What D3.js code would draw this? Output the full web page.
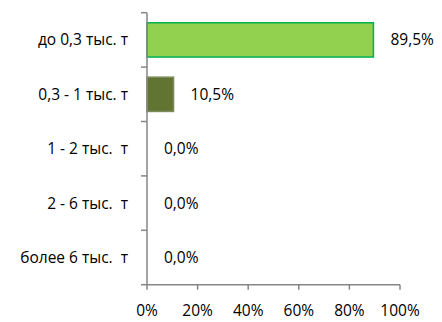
<!DOCTYPE html>
<html><head><meta charset="utf-8">
<script src="https://cdn.jsdelivr.net/npm/d3@7"></script>
<style>
html,body{margin:0;padding:0;background:#fff;}
text{font-family:"Open Sans","Segoe UI",sans-serif;fill:#000;white-space:pre;}
</style></head>
<body><svg id="chart" width="442" height="322"></svg>
<script>
const categories = ["до 0,3 тыс. т", "0,3 - 1 тыс. т", "1 - 2 тыс.  т", "2 - 6 тыс.  т", "более 6 тыс.  т"];
const values = [89.5, 10.5, 0.0, 0.0, 0.0];
const valueLabels = ["89,5%", "10,5%", "0,0%", "0,0%", "0,0%"];
const tickValues = [0, 20, 40, 60, 80, 100];
const tickLabels = ["0%", "20%", "40%", "60%", "80%", "100%"];
const fills = ["#92D050", "#627432", "#92D050", "#92D050", "#92D050"];
const strokes = ["#00B050", "#7C8C5C", "none", "none", "none"];

const svg = d3.select("#chart");
const x = d3.scaleLinear().domain([0, 100]).range([147, 400]);
const y = d3.scaleBand().domain(categories).range([12.7, 284.7]).paddingInner(0.37).paddingOuter(0.185);
const axisColor = "#868686";
const fs = 15.5;

// bars
svg.selectAll("rect.bar").data(values).join("rect")
  .attr("class", "bar")
  .attr("x", x(0))
  .attr("y", (d, i) => y(categories[i]))
  .attr("width", d => x(d) - x(0))
  .attr("height", y.bandwidth())
  .attr("fill", (d, i) => fills[i])
  .attr("stroke", (d, i) => d > 0 ? strokes[i] : "none")
  .attr("stroke-width", 1.5)
  .style("display", d => d > 0 ? null : "none");

// y axis
const yAxisG = svg.append("g").attr("transform", `translate(${x(0)},0)`);
yAxisG.append("line").attr("x1", 0).attr("x2", 0).attr("y1", 12.7).attr("y2", 284.7)
  .attr("stroke", axisColor).attr("stroke-width", 1.5);
const yTicks = d3.range(categories.length + 1).map(i => 12.7 + i * y.step());
yAxisG.selectAll("line.t").data(yTicks).join("line").attr("class", "t")
  .attr("x1", -6).attr("x2", 0).attr("y1", d => d).attr("y2", d => d)
  .attr("stroke", axisColor).attr("stroke-width", 1.5);
svg.selectAll("text.cat").data(categories).join("text").attr("class", "cat")
  .attr("x", 128).attr("y", d => y(d) + y.bandwidth() / 2)
  .attr("dy", "0.35em").attr("text-anchor", "end").attr("font-size", fs)
  .text(d => d);

// x axis
const xAxisG = svg.append("g").attr("transform", `translate(0,284.7)`);
xAxisG.append("line").attr("x1", x(0)).attr("x2", x(100)).attr("y1", 0).attr("y2", 0)
  .attr("stroke", axisColor).attr("stroke-width", 1.5);
xAxisG.selectAll("line.t").data(tickValues).join("line").attr("class", "t")
  .attr("x1", d => x(d)).attr("x2", d => x(d)).attr("y1", 0).attr("y2", 5)
  .attr("stroke", axisColor).attr("stroke-width", 1.5);
xAxisG.selectAll("text").data(tickValues).join("text")
  .attr("x", d => x(d)).attr("y", 31).attr("text-anchor", "middle").attr("font-size", fs)
  .text((d, i) => tickLabels[i]);

// value labels
svg.selectAll("text.val").data(values).join("text").attr("class", "val")
  .attr("x", d => x(d) + 17).attr("y", (d, i) => y(categories[i]) + y.bandwidth() / 2)
  .attr("dy", "0.35em").attr("font-size", fs)
  .text((d, i) => valueLabels[i]);
</script></body></html>
